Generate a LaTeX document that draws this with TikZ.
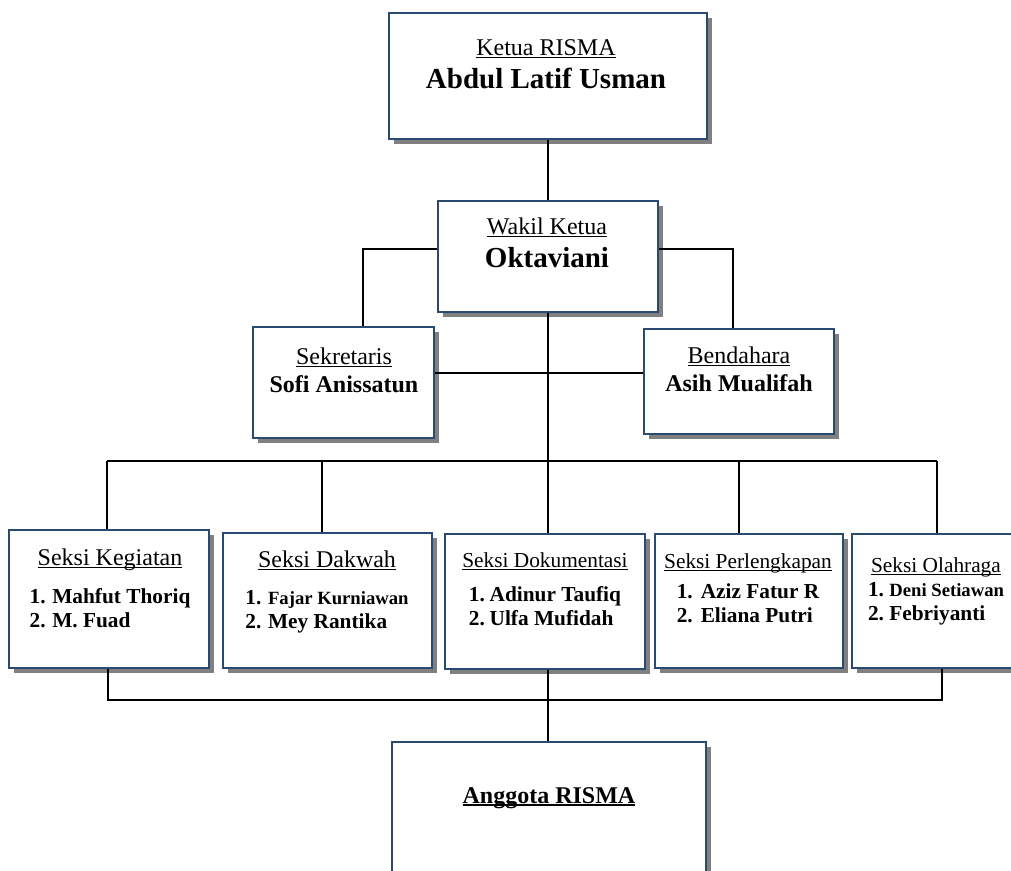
\documentclass[tikz,border=0pt]{standalone}
\usepackage{fontspec}
\setmainfont{Liberation Serif}
\usetikzlibrary{shadows}
\definecolor{birutua}{HTML}{2B4A70}
\newcommand{\garis}[2][1.1pt]{\setbox0\hbox{#2}\rlap{\rule[-2.6pt]{\wd0}{#1}}\box0}
\newcommand{\daftar}[2]{\begin{tabular}[t]{@{}l@{\hspace{#1}}l@{}}#2\end{tabular}}
\newcommand{\judul}[2]{{\mdseries\fontsize{#1}{#1}\selectfont\garis{#2}}}
\begin{document}
\begin{tikzpicture}[x=0.75pt,y=-0.75pt]
\tikzstyle{kotak}=[rectangle,draw=birutua,line width=1.3pt,fill=white,inner sep=0pt,
  general shadow={fill=gray,shadow xshift=3.75pt,shadow yshift=-3.75pt}]
\tikzstyle{teks}=[align=center,anchor=base,inner sep=0pt]
\tikzstyle{hubung}=[line width=1.1pt]
\useasboundingbox (0,0) rectangle (1011,871);
% kotak pengurus
\node[kotak,minimum width=238.5pt,minimum height=94.5pt](ketua) at (548,76.3) {};
\node[kotak,minimum width=165pt,minimum height=83.25pt](wakil) at (548,256.5) {};
\node[kotak,minimum width=135.75pt,minimum height=83.25pt](sek) at (343.5,382.5) {};
\node[kotak,minimum width=142.5pt,minimum height=78.75pt](ben) at (739,381.5) {};
\node[kotak,minimum width=150pt,minimum height=103.5pt](keg) at (109,599) {};
\node[kotak,minimum width=156.75pt,minimum height=101.25pt](dak) at (327.5,600.5) {};
\node[kotak,minimum width=150pt,minimum height=101.25pt](dok) at (545,601.5) {};
\node[kotak,minimum width=141pt,minimum height=100.5pt](per) at (749,601) {};
\node[kotak,minimum width=127.5pt,minimum height=100.5pt](ola) at (937,601) {};
\node[kotak,minimum width=235.5pt,minimum height=105pt](angg) at (549,812) {};
% teks (anchor base = baris terakhir)
\node[teks,font=\fontsize{18}{24.75}\selectfont](tketua) at (546,88) {\garis{Ketua RISMA}\\{\bfseries\fontsize{21.75}{24.75}\selectfont Abdul Latif Usman}};
\node[teks,font=\fontsize{18}{24.75}\selectfont](twakil) at (547,267) {\garis{Wakil Ketua}\\{\bfseries\fontsize{21.75}{24.75}\selectfont Oktaviani}};
\node[teks,font=\fontsize{18}{21}\selectfont](tsek) at (344,392) {\garis{Sekretaris}\\\textbf{Sofi Anissatun}};
\node[teks,font=\fontsize{18}{21}\selectfont](tben) at (739,391) {\garis{Bendahara}\\\textbf{Asih Mualifah}};
\node[teks,font=\fontsize{16}{18}\selectfont\bfseries](tkeg) at (110,603) {\judul{18}{Seksi Kegiatan}\\[10.5pt]\daftar{5pt}{1.&Mahfut Thoriq\\2.&M. Fuad}};
\node[teks,font=\fontsize{16}{18}\selectfont\bfseries](tdak) at (327,604) {\judul{18}{Seksi Dakwah}\\[9.75pt]\daftar{5pt}{1.&{\fontsize{14}{18}\selectfont Fajar Kurniawan}\\2.&Mey Rantika}};
\node[teks,font=\fontsize{16}{18}\selectfont\bfseries](tdok) at (545,601) {\judul{16}{Seksi Dokumentasi}\\[7.5pt]\daftar{3.5pt}{1.&Adinur Taufiq\\2.&Ulfa Mufidah}};
\node[teks,font=\fontsize{16}{18}\selectfont\bfseries](tper) at (748,598) {\judul{16}{Seksi Perlengkapan}\\[4.5pt]\daftar{6pt}{1.&Aziz Fatur R\\2.&Eliana Putri}};
\node[teks,font=\fontsize{16}{18}\selectfont\bfseries](tola) at (936,596) {\judul{16}{Seksi Olahraga}\\[0pt]\daftar{4pt}{1.&{\fontsize{14}{18}\selectfont Deni Setiawan}\\2.&Febriyanti}};
\node[teks,font=\fontsize{18}{21}\selectfont\bfseries](tangg) at (549,803) {\garis[1.6pt]{Anggota RISMA}};
% garis penghubung
\coordinate (cabkiri) at (363,249);
\coordinate (cabkanan) at (733,249);
\coordinate (tengah) at (548,373);
\coordinate (busatas) at (548,461);
\coordinate (ujungkiri) at (108,700);
\coordinate (ujungkanan) at (942,700);
\draw[hubung] (ketua.south) -- (wakil.north);
\draw[hubung] (wakil.west |- cabkiri) -| (sek.north -| cabkiri);
\draw[hubung] (wakil.east |- cabkanan) -| (ben.north -| cabkanan);
\draw[hubung] (sek.east |- tengah) -- (ben.west |- tengah);
\draw[hubung] (wakil.south) -- (busatas);
\foreach \n/\x in {keg/107,dak/322,dok/548,per/739,ola/937}{
  \coordinate (atas-\n) at (\x,461);
  \draw[hubung] (atas-\n) -- (atas-\n |- \n.north);}
\draw[hubung] (atas-keg) -- (atas-ola);
\draw[hubung] (keg.south -| ujungkiri) -- (ujungkiri) -- (ujungkanan) -- (ola.south -| ujungkanan);
\draw[hubung] (dok.south -| busatas) -- (busatas |- angg.north);
\end{tikzpicture}
\end{document}
